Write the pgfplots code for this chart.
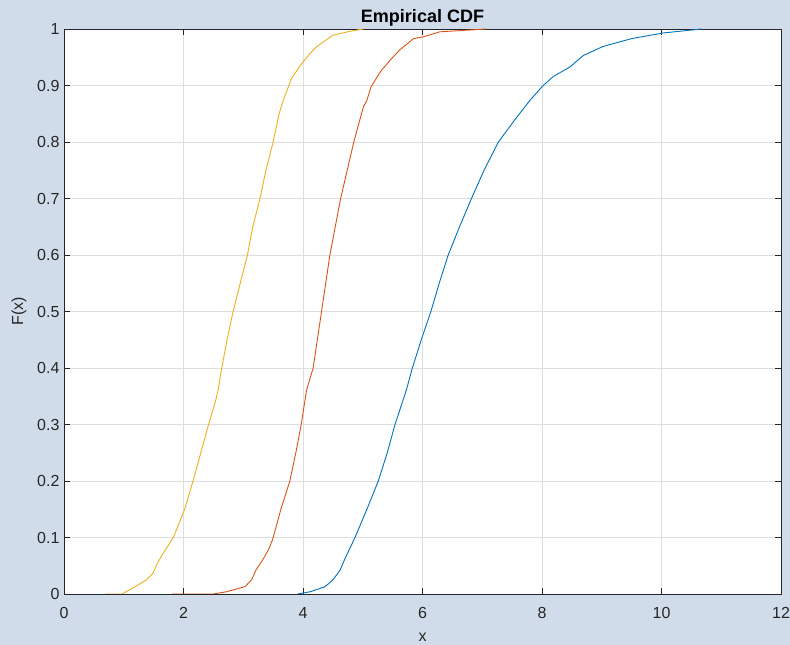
\documentclass[border=0pt]{standalone}
\usepackage{fontspec}
\setmainfont{Liberation Sans}
\usepackage{pgfplots}
\pgfplotsset{compat=1.18}
\definecolor{figbg}{RGB}{209,220,235}
\definecolor{mblue}{HTML}{0072BD}
\definecolor{morange}{HTML}{D95319}
\definecolor{myellow}{HTML}{EDB120}
\definecolor{axcol}{RGB}{38,38,38}
\begin{document}
\begin{tikzpicture}[x=1pt,y=1pt]
\fill[figbg] (-64,-51) rectangle (726,594);
\useasboundingbox (-64,-51) rectangle (726,594);
\begin{axis}[at={(0,0)}, anchor=south west,
  width=717pt, height=565pt, scale only axis,
  xmin=0, xmax=12, ymin=0, ymax=1,
  xtick={0,2,4,6,8,10,12},
  ytick={0,0.1,0.2,0.3,0.4,0.5,0.6,0.7,0.8,0.9,1},
  axis background/.style={fill=white},
  grid=major, grid style={color=black!13, line width=0.7pt},
  axis line style={color=axcol, line width=0.8pt},
  tick style={color=axcol, line width=0.8pt},
  major tick length=6pt, tick align=inside,
  /pgf/number format/assume math mode=true,
  ticklabel style={font=\fontsize{16}{18}\selectfont, text=axcol},
  yticklabel style={/pgf/number format/fixed, /pgf/number format/precision=1, xshift=-1pt},
  xticklabel style={yshift=-10pt},
  xlabel={x}, ylabel={F(x)},
  label style={font=\fontsize{16}{18}\selectfont, text=axcol},
  xlabel style={yshift=-7pt},
  ylabel style={yshift=4pt},
  title={Empirical CDF},
  title style={font=\bfseries\fontsize{18}{20}\selectfont, yshift=-7pt},
  every axis plot/.append style={line width=0.9pt, line join=round},
]
\addplot[myellow] coordinates {
(0.70,0) (0.97,0) (1.19,0.013) (1.38,0.025) (1.49,0.037) (1.56,0.054) (1.66,0.072) (1.77,0.09)
(1.83,0.1) (2.02,0.15) (2.16,0.2) (2.29,0.25) (2.42,0.3) (2.54,0.343) (2.58,0.361) (2.64,0.4)
(2.73,0.45) (2.83,0.5) (2.95,0.55) (3.07,0.6) (3.16,0.65) (3.28,0.7) (3.38,0.75) (3.50,0.8)
(3.60,0.85) (3.67,0.874) (3.81,0.913) (3.98,0.939) (4.12,0.957) (4.23,0.969) (4.50,0.989)
(4.79,0.996) (5.01,1)
};
\addplot[morange] coordinates {
(1.80,0) (2.50,0) (2.72,0.004) (3.03,0.013) (3.14,0.025) (3.21,0.042) (3.34,0.063) (3.42,0.078)
(3.49,0.096) (3.63,0.15) (3.78,0.2) (3.88,0.25) (3.97,0.3) (4.06,0.361) (4.17,0.4) (4.24,0.45)
(4.31,0.5) (4.38,0.55) (4.45,0.6) (4.54,0.65) (4.63,0.7) (4.74,0.75) (4.85,0.8) (5.01,0.862)
(5.07,0.874) (5.14,0.898) (5.30,0.925) (5.46,0.945) (5.62,0.963) (5.85,0.983) (6.01,0.986)
(6.29,0.995) (7.07,1)
};
\addplot[mblue] coordinates {
(3.91,0) (4.12,0.004) (4.37,0.013) (4.50,0.025) (4.62,0.042) (4.70,0.062) (4.87,0.1) (5.07,0.15)
(5.26,0.2) (5.41,0.25) (5.54,0.3) (5.73,0.361) (5.83,0.4) (5.98,0.45) (6.14,0.5) (6.28,0.55)
(6.43,0.6) (6.62,0.65) (6.82,0.7) (7.03,0.75) (7.27,0.8) (7.55,0.84) (7.80,0.874) (8.02,0.9)
(8.19,0.916) (8.47,0.933) (8.69,0.953) (9.02,0.969) (9.50,0.983) (10.03,0.993) (10.67,1)
};
\end{axis}
\end{tikzpicture}
\end{document}
